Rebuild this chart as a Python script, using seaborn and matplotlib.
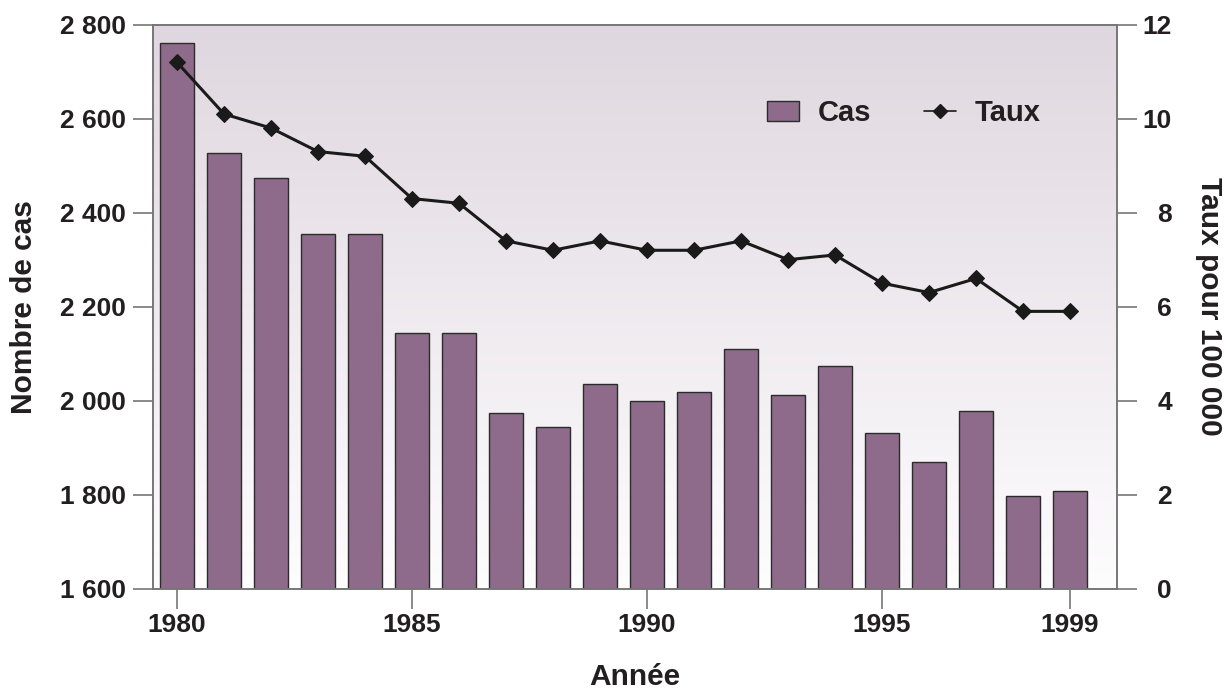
import numpy as np
import pandas as pd
import matplotlib
matplotlib.use("Agg")
import matplotlib.pyplot as plt
import seaborn as sns

# Data
annees = [1980, 1981, 1982, 1983, 1984, 1985, 1986, 1987, 1988, 1989,
          1990, 1991, 1992, 1993, 1994, 1995, 1996, 1997, 1998, 1999]
cas = [2762, 2526, 2474, 2355, 2355, 2145, 2145, 1973, 1945, 2035,
       1999, 2018, 2109, 2012, 2073, 1932, 1869, 1977, 1797, 1807]
taux = [11.2, 10.1, 9.8, 9.3, 9.2, 8.3, 8.2, 7.4, 7.2, 7.4,
        7.2, 7.2, 7.4, 7.0, 7.1, 6.5, 6.3, 6.6, 5.9, 5.9]

left_ticks = [1600, 1800, 2000, 2200, 2400, 2600, 2800]
right_ticks = [0, 2, 4, 6, 8, 10, 12]
x_ticks = [1980, 1985, 1990, 1995, 1999]

BAR_COLOR = "#8e6b8a"
EDGE = "#2b2b2b"
AXIS_GREY = "#777777"
TEXT = "#231f20"
TICK_LEN = 14.4  # 20 px at 100 dpi

df = pd.DataFrame({"annee": annees, "cas": cas, "taux": taux})

sns.set_style("white")
plt.rcParams["font.family"] = ["Liberation Sans", "DejaVu Sans"]
plt.rcParams["font.weight"] = "bold"

fig = plt.figure(figsize=(12.27, 6.89), dpi=100)
ax = fig.add_axes([0.1247, 0.1456, 0.7857, 0.8186])

# background gradient (mauve at top, white at bottom)
grad = np.linspace(0, 1, 256).reshape(-1, 1)
top = np.array([0.875, 0.843, 0.875])
bottom = np.array([0.995, 0.992, 0.995])
img = top + (bottom - top) * grad[:, :, None]
ax.imshow(img, extent=[0, 1, 0, 1], transform=ax.transAxes,
          aspect="auto", origin="upper", zorder=0)

sns.barplot(data=df, x="annee", y="cas", native_scale=True, width=0.73,
            color=BAR_COLOR, edgecolor=EDGE, linewidth=1.0, saturation=1,
            ax=ax, zorder=2)
ax.set_xlim(1979.49, 2000.0)
ax.set_ylim(1600, 2800)
ax.set_yticks(left_ticks)
ax.set_yticklabels([f"{v:,}".replace(",", " ") for v in left_ticks])
ax.set_xticks(x_ticks)
ax.set_xticklabels([str(v) for v in x_ticks])

ax2 = ax.twinx()
sns.lineplot(data=df, x="annee", y="taux", color="#1a1a1a", linewidth=2.2,
             marker="D", markersize=8, markeredgecolor="#1a1a1a", ax=ax2,
             zorder=3)
ax2.set_ylim(0, 12)
ax2.set_yticks(right_ticks)
ax2.set_xlim(1979.49, 2000.0)

for a in (ax, ax2):
    for s in a.spines.values():
        s.set_color(AXIS_GREY)
        s.set_linewidth(1.2)

ax.tick_params(axis="y", left=True, direction="out", length=TICK_LEN,
               width=1.2, color=AXIS_GREY, labelsize=19, labelcolor=TEXT, pad=5)
ax.tick_params(axis="x", bottom=True, direction="out", length=TICK_LEN,
               width=1.2, color=AXIS_GREY, labelsize=19, labelcolor=TEXT, pad=3)
ax2.tick_params(axis="y", right=True, direction="out", length=TICK_LEN,
                width=1.2, color=AXIS_GREY, labelsize=19, labelcolor=TEXT,
                pad=25)
for lab in ax2.get_yticklabels():
    lab.set_horizontalalignment("right")

ax.set_xlabel("Année", fontsize=21.5, fontweight="bold", color=TEXT,
              labelpad=19)
ax.set_ylabel("Nombre de cas", fontsize=21.5, fontweight="bold", color=TEXT,
              labelpad=16)
ax2.set_ylabel("Taux pour 100 000", fontsize=21.5, fontweight="bold",
               color=TEXT, rotation=270, labelpad=37)

bar_handle = plt.Rectangle((0, 0), 1, 1, facecolor=BAR_COLOR, edgecolor=EDGE,
                           linewidth=1.0)
line_handle = plt.Line2D([], [], color="#1a1a1a", linewidth=1.2, marker="D",
                         markersize=7)
ax2.legend([bar_handle, line_handle], ["Cas", "Taux"], ncol=2, frameon=False,
           loc="center left", bbox_to_anchor=(0.6215, 0.843), fontsize=21,
           handlelength=1.1, handleheight=0.7, handletextpad=0.65,
           columnspacing=1.8, borderpad=0, labelcolor=TEXT)

fig.savefig("out.png", dpi=100)
